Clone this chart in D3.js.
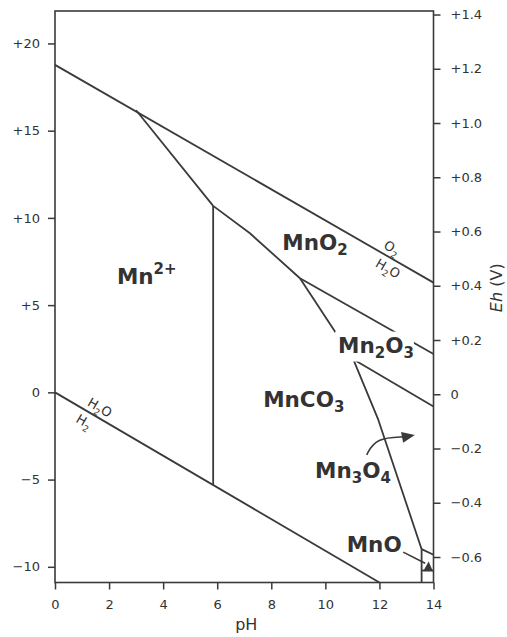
<!DOCTYPE html>
<html>
<head>
<meta charset="utf-8">
<script src="https://cdn.jsdelivr.net/npm/d3@7"></script>
<style>
  html, body { margin: 0; padding: 0; background: #fff; }
  svg { display: block; }
  text { font-family: "DejaVu Sans", sans-serif; fill: #333; }
</style>
</head>
<body>
<svg id="chart" width="507" height="637"></svg>
<script>
// ---- axis ticks ----
const pHTicks = [0, 2, 4, 6, 8, 10, 12, 14];
const peTicks = [20, 15, 10, 5, 0, -5, -10];
const ehTicks = [1.4, 1.2, 1.0, 0.8, 0.6, 0.4, 0.2, 0, -0.2, -0.4, -0.6];

// ---- water stability limits, [pH, pe] ----
const o2H2O = [[0, 18.77], [14, 6.29]];
const h2oH2 = [[0, 0], [12, -10.9]];

// ---- manganese phase boundaries, [pH, pe] ----
const mn2MnO2    = [[3.0, 16.17], [5.85, 10.69]];
const mn2MnCO3   = [[5.85, 10.69], [5.85, -5.31]];
const mnO2MnCO3  = [[5.85, 10.69], [7.21, 9.12], [9.06, 6.54]];
const mnO2Mn2O3  = [[9.06, 6.54], [14, 2.20]];
const mnCO3Mn2O3 = [[9.06, 6.54], [11.03, 1.90]];
const mn2O3Mn3O4 = [[11.03, 1.90], [14, -0.81]];
const mnCO3Mn3O4 = [[11.03, 1.90], [11.96, -1.58], [13.56, -8.99]];
const mn3O4MnO   = [[13.56, -8.99], [14, -9.31]];
const mnCO3MnO   = [[13.56, -8.99], [13.56, -10.9]];
const mnOBase    = [[13.56, -10.21], [14, -10.21]];

// ---- stability field names ----
const fieldNames = ["Mn^{2+}", "MnO_2", "Mn_2O_3", "MnCO_3", "Mn_3O_4", "MnO"];
// anchor (left end of baseline) of each field name, [pH, pe]
const fieldAnchors = [[2.29, 6.22], [8.41, 8.17], [10.47, 2.28], [7.70, -0.85], [9.62, -4.92], [10.79, -9.18]];

// ---- water line annotations: formula, pH along the line, side ----
const waterNotes = [
  { line: o2H2O, text: "O_2",  pH: 12.29, side: "above" },
  { line: o2H2O, text: "H_2O", pH: 12.51, side: "below" },
  { line: h2oH2, text: "H_2O", pH: 1.48,  side: "above" },
  { line: h2oH2, text: "H_2",  pH: 1.27,  side: "below" }
];

// ---- pointer arrows, [pH, pe] ----
const mn3O4Arrow = [[11.53, -3.58], [11.87, -2.61], [12.95, -2.55], [13.31, -2.44]];
const mnOArrow   = [[12.88, -9.16], [13.69, -9.80]];
const mnOHead    = [[13.62, -10.26], [13.98, -10.26], [13.82, -9.70]];

// ---- scales ----
const x   = d3.scaleLinear().domain([0, 14]).range([55, 433.5]);
const y   = d3.scaleLinear().domain([-10.9, 21.86]).range([582.5, 11]);
const yEh = d3.scaleLinear().domain([-0.694, 1.413]).range([582.5, 11]);

const svg = d3.select("#chart");
const ink = "#3a3a3a";

const fmtSigned = (d, digits) => {
  const s = Math.abs(d).toFixed(digits);
  return d > 0 ? "+" + s : d < 0 ? "\u2212" + s : "0";
};

// ---- axes ----
const gLeft = svg.append("g").attr("transform", `translate(${x(0)},0)`)
  .call(d3.axisLeft(y).tickValues(peTicks).tickSize(7).tickPadding(8)
    .tickFormat(d => fmtSigned(d, 0)));
const gRight = svg.append("g").attr("transform", `translate(${x(14)},0)`)
  .call(d3.axisRight(yEh).tickValues(ehTicks).tickSize(7).tickPadding(10)
    .tickFormat(d => fmtSigned(d, d === 0 ? 0 : 1)));
const gBottom = svg.append("g").attr("transform", `translate(0,${y(-10.9)})`)
  .call(d3.axisBottom(x).tickValues(pHTicks).tickSize(7).tickPadding(10));

[gLeft, gRight, gBottom].forEach(g => {
  g.select(".domain").remove();
  g.selectAll(".tick line").attr("stroke", ink).attr("stroke-width", 1.5);
  g.selectAll(".tick text").attr("font-size", 13).attr("fill", "#333")
    .attr("font-family", "DejaVu Sans, sans-serif");
});

// frame
svg.append("rect")
  .attr("x", x(0)).attr("y", y(21.86))
  .attr("width", x(14) - x(0)).attr("height", y(-10.9) - y(21.86))
  .attr("fill", "none").attr("stroke", ink).attr("stroke-width", 1.6);

// axis titles
svg.append("text").attr("x", (x(0) + x(14)) / 2 + 2).attr("y", 630)
  .attr("text-anchor", "middle").attr("font-size", 16).text("pH");
const ehTitle = svg.append("text")
  .attr("transform", `translate(502,${(y(21.86) + y(-10.9)) / 2 - 9}) rotate(-90)`)
  .attr("text-anchor", "middle").attr("font-size", 16);
ehTitle.append("tspan").attr("font-style", "italic").text("Eh");
ehTitle.append("tspan").text(" (V)");

// ---- boundaries ----
const line = d3.line().x(d => x(d[0])).y(d => y(d[1]));
const boundaries = [o2H2O, h2oH2, mn2MnO2, mn2MnCO3, mnO2MnCO3, mnO2Mn2O3,
  mnCO3Mn2O3, mn2O3Mn3O4, mnCO3Mn3O4, mn3O4MnO, mnCO3MnO, mnOBase];
svg.append("g").selectAll("path").data(boundaries).join("path")
  .attr("d", line).attr("fill", "none").attr("stroke", ink)
  .attr("stroke-width", 1.8).attr("stroke-linejoin", "round");

// ---- formula text helper: "_x" subscript, "^{..}" superscript ----
function addFormula(sel, formula, size, small, subShift, supShift) {
  const re = /_(\w)|\^\{([^}]*)\}|([^_^]+)/g;
  let m, shift = 0;
  while ((m = re.exec(formula))) {
    let content, target, fs;
    if (m[1]) { content = m[1]; target = subShift; fs = small; }
    else if (m[2]) { content = m[2]; target = -supShift; fs = small; }
    else { content = m[3]; target = 0; fs = size; }
    sel.append("tspan").attr("dy", target - shift).attr("font-size", fs).text(content);
    shift = target;
  }
}

// ---- water line notes ----
waterNotes.forEach(n => {
  const [p0, p1] = n.line;
  const ang = Math.atan2(y(p1[1]) - y(p0[1]), x(p1[0]) - x(p0[0])) * 180 / Math.PI;
  const t = (n.pH - p0[0]) / (p1[0] - p0[0]);
  const pe = p0[1] + t * (p1[1] - p0[1]);
  const g = svg.append("g")
    .attr("transform", `translate(${x(n.pH)},${y(pe)}) rotate(${ang})`);
  const txt = g.append("text").attr("text-anchor", "middle")
    .attr("y", n.side === "above" ? -5 : 15).attr("font-size", 13);
  addFormula(txt, n.text, 13, 9, 4, 5);
});

// ---- arrows ----
const curve = d3.line().x(d => x(d[0])).y(d => y(d[1])).curve(d3.curveBasis);
const shaft = mn3O4Arrow.slice(0, 3);
svg.append("path").attr("d", curve(shaft)).attr("fill", "none")
  .attr("stroke", ink).attr("stroke-width", 1.6);
{
  const tip = mn3O4Arrow[3], base = mn3O4Arrow[2];
  const tx = x(tip[0]), ty = y(tip[1]), bx = x(base[0]), by = y(base[1]);
  const dx = tx - bx, dy = ty - by, L = Math.hypot(dx, dy);
  const ux = dx / L, uy = dy / L, w = 5.5, len = 13;
  const cx = tx - ux * len, cy = ty - uy * len;
  svg.append("path")
    .attr("d", `M${tx},${ty}L${cx - uy * w},${cy + ux * w}L${cx + uy * w},${cy - ux * w}Z`)
    .attr("fill", ink);
}
svg.append("path").attr("d", line(mnOArrow)).attr("fill", "none")
  .attr("stroke", ink).attr("stroke-width", 1.6);
svg.append("path").attr("d", line(mnOHead) + "Z").attr("fill", ink);

// ---- field names ----
fieldNames.forEach((name, i) => {
  const [ph, pe] = fieldAnchors[i];
  const g = svg.append("g");
  const txt = g.append("text").attr("x", x(ph)).attr("y", y(pe))
    .attr("font-size", 21.5).attr("font-weight", "bold");
  addFormula(txt, name, 21.5, 15, 5, 10);
  if (name === "Mn_2O_3") {
    const b = txt.node().getBBox();
    g.insert("rect", "text")
      .attr("x", b.x - 3).attr("y", b.y - 1)
      .attr("width", b.width + 3).attr("height", b.height + 1)
      .attr("fill", "#fff");
  }
});
</script>
</body>
</html>
